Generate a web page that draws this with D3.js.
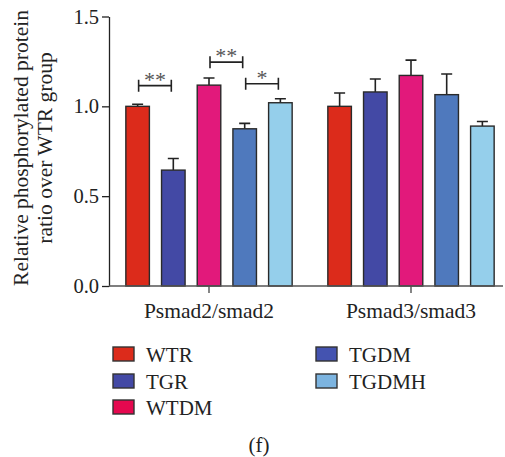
<!DOCTYPE html>
<html>
<head>
<meta charset="utf-8">
<script src="https://cdn.jsdelivr.net/npm/d3@7"></script>
<style>
  body { margin: 0; background: #fff; }
  svg text { font-family: "Liberation Serif", "DejaVu Serif", serif; fill: #222; }
</style>
</head>
<body>
<div id="chart"></div>
<script>
// groups on the x axis and the five series
var groups = ["Psmad2/smad2", "Psmad3/smad3"];
var series = ["WTR", "TGR", "WTDM", "TGDM", "TGDMH"];

// mean values per group (same order as series)
var psmad2 = [1.00, 0.645, 1.118, 0.875, 1.02];
var psmad3 = [1.00, 1.08, 1.172, 1.065, 0.89];
// error (upper only)
var psmad2Err = [0.012, 0.065, 0.04, 0.03, 0.022];
var psmad3Err = [0.074, 0.072, 0.085, 0.115, 0.026];

var yTicks = [0.0, 0.5, 1.0, 1.5];

// significance brackets in the first group: [from bar, to bar, y value, label]
var brackets = [
  [0, 1, 1.115, "**"],
  [2, 3, 1.246, "**"],
  [3, 4, 1.126, "*"]
];

var barColors = ["#dc2b1b", "#4349a5", "#e2197b", "#4f79bd", "#95cfeb"];
var legendColors = ["#dc2b1b", "#4349a5", "#e5084f", "#4453b0", "#7cb4e0"];

var width = 505, height = 457;

var svg = d3.select("#chart").append("svg")
  .attr("width", width)
  .attr("height", height);

var y = d3.scaleLinear().domain([0, 1.5]).range([286, 16.5]);

var x0 = d3.scaleBand().domain(groups).range([108, 512]);
var x1 = d3.scaleBand().domain(series)
  .range([0, x0.bandwidth()])
  .paddingInner(0.34)
  .paddingOuter(0.5);

var color = d3.scaleOrdinal().domain(series).range(barColors);

var data = groups.map(function(g, gi) {
  var vals = gi === 0 ? psmad2 : psmad3;
  var errs = gi === 0 ? psmad2Err : psmad3Err;
  return series.map(function(s, i) {
    return { group: g, name: s, value: vals[i], err: errs[i] };
  });
});

// bars
var gGroups = svg.selectAll(".grp")
  .data(data)
  .enter().append("g")
  .attr("class", "grp")
  .attr("transform", function(d) { return "translate(" + x0(d[0].group) + ",0)"; });

// error bars first (behind the bar top)
gGroups.selectAll(".err")
  .data(function(d) { return d; })
  .enter().append("path")
  .attr("class", "err")
  .attr("d", function(d) {
    var cx = x1(d.name) + x1.bandwidth() / 2;
    var top = y(d.value + d.err);
    return "M" + cx + "," + y(d.value) + "V" + top + "M" + (cx - 5.5) + "," + top + "H" + (cx + 5.5);
  })
  .attr("stroke", "#222")
  .attr("stroke-width", 1.6)
  .attr("fill", "none");

gGroups.selectAll("rect")
  .data(function(d) { return d; })
  .enter().append("rect")
  .attr("x", function(d) { return x1(d.name); })
  .attr("y", function(d) { return y(d.value); })
  .attr("width", x1.bandwidth())
  .attr("height", function(d) { return y(0) - y(d.value); })
  .attr("fill", function(d) { return color(d.name); })
  .attr("stroke", "#2a2a2a")
  .attr("stroke-width", 1.4);

// y axis
var yAxis = d3.axisLeft(y)
  .tickValues(yTicks)
  .tickFormat(d3.format(".1f"))
  .tickSize(7)
  .tickSizeOuter(0)
  .tickPadding(3);

var gy = svg.append("g")
  .attr("transform", "translate(109,0)")
  .call(yAxis);
gy.select(".domain").attr("stroke", "#222").attr("stroke-width", 1.3);
gy.selectAll(".tick line").attr("stroke", "#222").attr("stroke-width", 1.3);
gy.selectAll(".tick text")
  .style("font-size", "20.5px")
  .attr("fill", "#222");

// x axis
var xAxis = d3.axisBottom(x0).tickSize(7).tickPadding(10);
var gx = svg.append("g")
  .attr("transform", "translate(0,286)")
  .call(xAxis);
gx.select(".domain").remove();
gx.append("line")
  .attr("x1", 109).attr("x2", 503)
  .attr("y1", 0).attr("y2", 0)
  .attr("stroke", "#555")
  .attr("stroke-width", 1.4);
gx.selectAll(".tick line").attr("stroke", "#444").attr("stroke-width", 1.3);
gx.selectAll(".tick text")
  .style("font-size", "21.5px")
  .attr("fill", "#222");

// y axis title
var yTitle = svg.append("text")
  .attr("transform", "translate(28,148) rotate(-90)")
  .attr("text-anchor", "middle")
  .style("font-size", "21.5px");
yTitle.append("tspan").attr("x", 0).attr("dy", 0).text("Relative phosphorylated protein");
yTitle.append("tspan").attr("x", 0).attr("dy", 24).text("ratio over WTR group");

// significance brackets
var g0 = x0(groups[0]);
brackets.forEach(function(b) {
  var xa = g0 + x1(series[b[0]]) + x1.bandwidth() / 2 + 1;
  var xb = g0 + x1(series[b[1]]) + x1.bandwidth() / 2 - 2;
  var yy = y(b[2]);
  svg.append("path")
    .attr("d", "M" + xa + "," + (yy - 6) + "V" + (yy + 6) +
               "M" + xa + "," + yy + "H" + xb +
               "M" + xb + "," + (yy - 6) + "V" + (yy + 6))
    .attr("stroke", "#222")
    .attr("stroke-width", 1.6)
    .attr("fill", "none");
  svg.append("text")
    .attr("x", (xa + xb) / 2)
    .attr("y", yy + 1)
    .attr("text-anchor", "middle")
    .style("font-size", "22px")
    .style("fill", "#555")
    .text(b[3]);
});

// legend
var legendPos = [[113, 347], [113, 374], [113, 400], [316, 347], [316, 374]];
var legend = svg.selectAll(".legend")
  .data(series)
  .enter().append("g")
  .attr("class", "legend")
  .attr("transform", function(d, i) { return "translate(" + legendPos[i][0] + "," + legendPos[i][1] + ")"; });

legend.append("rect")
  .attr("width", 21)
  .attr("height", 14)
  .attr("fill", function(d, i) { return legendColors[i]; })
  .attr("stroke", "#333")
  .attr("stroke-width", 1.4);

legend.append("text")
  .attr("x", 33)
  .attr("y", 15)
  .style("font-size", "21px")
  .text(function(d) { return d; });

// panel label
svg.append("text")
  .attr("x", 259)
  .attr("y", 452)
  .attr("text-anchor", "middle")
  .style("font-size", "21px")
  .text("(f)");
</script>
</body>
</html>
